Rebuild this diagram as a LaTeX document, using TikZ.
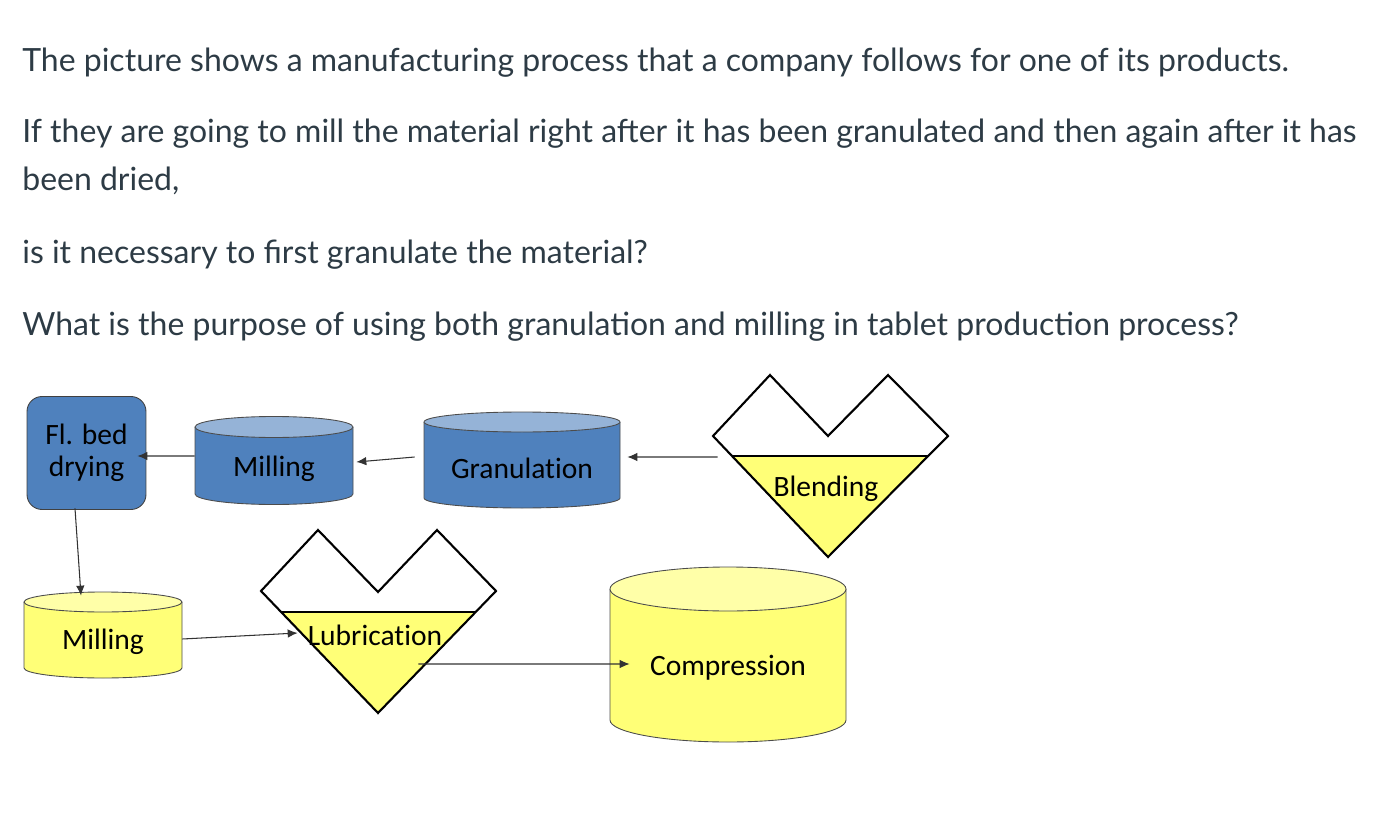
\documentclass[tikz,border=0pt]{standalone}
\usepackage{fontspec}
\setmainfont{Lato}
\newfontfamily\calib[Ligatures=NoCommon]{Carlito}
\usetikzlibrary{arrows.meta}
\definecolor{qtext}{HTML}{2D3B45}
\definecolor{procblue}{HTML}{4F81BD}
\definecolor{procbluetop}{HTML}{95B3D7}
\definecolor{procyellow}{HTML}{FFFF77}
\definecolor{procyellowtop}{HTML}{FFFFA8}
\tikzset{
  >={Latex[length=2mm,width=1.7mm]},
  question/.style={anchor=base west, inner sep=0pt, text=qtext, font=\fontsize{18.2}{22}\selectfont},
  proclabel/.style={font=\calib\fontsize{16.8}{18.2}\selectfont, inner sep=0pt},
  flow/.style={draw=black!80, line width=0.6pt, ->},
  hopper/.style={draw=black, line width=1.2pt, line join=miter},
  drumedge/.style={draw=black!70, line width=0.5pt}
}
% xc, top y, bottom y, half width, ry, body, top
\newcommand{\drum}[7]{
  \fill[#6] (#1-#4,#2) -- (#1-#4,#3) arc[start angle=180,end angle=360,x radius=#4,y radius=#5] -- (#1+#4,#2) -- cycle;
  \draw[drumedge] (#1-#4,#2) -- (#1-#4,#3) arc[start angle=180,end angle=360,x radius=#4,y radius=#5] -- (#1+#4,#2);
  \filldraw[drumedge, fill=#7] (#1,#2) ellipse[x radius=#4, y radius=#5];
}
\begin{document}
\begin{tikzpicture}[x=0.02cm,y=0.02cm]
\useasboundingbox (0,0) rectangle (1390,-828);

\node[question] (q1) at (22,-72) {The picture shows a manufacturing process that a company follows for one of its products.};
\node[question] (q2) at (22,-143) {If they are going to mill the material right after it has been granulated and then again after it has};
\node[question] (q3) at (22,-191) {been dried,};
\node[question] (q4) at (22,-263) {is it necessary to first granulate the material?};
\node[question] (q5) at (22,-335) {What is the purpose of using both granulation and milling in tablet production process?};

\drum{274}{-427}{-494}{79}{10.5}{procblue}{procbluetop}
\drum{522}{-422}{-498}{98}{10}{procblue}{procbluetop}
\drum{103}{-602}{-668}{79}{10}{procyellow}{procyellowtop}
\drum{728}{-589}{-720}{118}{22}{procyellow}{procyellowtop}

\fill[procyellow] (732,-456) -- (928,-456) -- (828,-557) -- cycle;
\draw[hopper] (713,-436) -- (770,-375) -- (828,-436) -- (888,-375) -- (948,-436) -- (828,-557) -- cycle;
\draw[hopper, line width=1pt] (732,-456) -- (928,-456);

\fill[procyellow] (281,-612) -- (476,-612) -- (378,-713) -- cycle;
\draw[hopper] (261,-591) -- (318,-530) -- (378,-592) -- (437,-530) -- (496,-591) -- (378,-713) -- cycle;
\draw[hopper, line width=1pt] (281,-612) -- (476,-612);

\node[proclabel, align=center, minimum width=2.38cm, minimum height=2.26cm, rounded corners=0.3cm,
      fill=procblue, draw=black!75, line width=0.5pt] (bed) at (86.5,-453) {Fl. bed\\drying};
\node[proclabel, minimum width=3.16cm] (mill1) at (274,-469) {Milling};
\node[proclabel, minimum width=3.92cm] (gran) at (522,-468) {Granulation};
\node[proclabel, minimum width=4.32cm] (blend) at (826,-489) {Blending};
\node[proclabel, minimum width=3.16cm, minimum height=1.92cm] (mill2) at (103,-642) {Milling};
\node[proclabel, minimum width=3.08cm] (lub) at (375,-635) {Lubrication};
\node[proclabel, minimum width=4.72cm] (comp) at (728,-668) {Compression};

\draw[flow] ([yshift=0.26cm]mill1.west) -- ([xshift=-0.18cm,yshift=-0.06cm]bed.east);
\draw[flow] ([xshift=-0.18cm,yshift=0.22cm]gran.west) -- ([xshift=0.06cm,yshift=0.14cm]mill1.east);
\draw[flow] ([yshift=0.64cm]blend.west) -- ([xshift=0.14cm,yshift=0.22cm]gran.east);
\draw[flow] ([xshift=-0.23cm,yshift=0.03cm]bed.south) -- ([xshift=-0.44cm,yshift=-0.04cm]mill2.north);
\draw[flow] ([yshift=0.06cm]mill2.east) -- ([yshift=0.04cm]lub.west);
\draw[flow] ([xshift=-0.68cm,yshift=-0.58cm]lub.east) -- ([xshift=0.4cm,yshift=0.08cm]comp.west);
\end{tikzpicture}
\end{document}
